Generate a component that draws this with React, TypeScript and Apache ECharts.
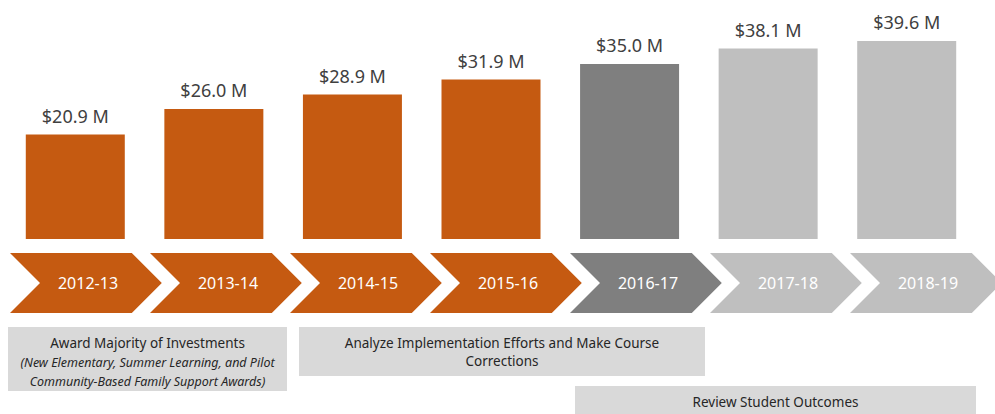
import React, { useEffect, useRef } from "react";
import * as echarts from "echarts";

const categories = ["2012-13", "2013-14", "2014-15", "2015-16", "2016-17", "2017-18", "2018-19"];
const funding = [20.9, 26.0, 28.9, 31.9, 35.0, 38.1, 39.6];
const phase = ["past", "past", "past", "past", "current", "future", "future"];
const boxTitles = [
  "Award Majority of Investments",
  "Analyze Implementation Efforts and Make Course\nCorrections",
  "Review Student Outcomes",
];
const boxNotes = [
  "(New Elementary, Summer Learning, and Pilot\nCommunity-Based Family Support Awards)",
  "",
  "",
];

const phaseColor: Record<string, string> = {
  past: "#C55A11",
  current: "#7F7F7F",
  future: "#BFBFBF",
};

const FONT = "'Noto Sans', 'DejaVu Sans', sans-serif";

// layout of the annotation boxes (x, y, w, h, title y, note y)
const boxLayout = [
  { x: 8, y: 327, w: 279, h: 64, ty: 343, ny: 371.5 },
  { x: 299, y: 327, w: 406, h: 49, ty: 352, ny: 0 },
  { x: 575, y: 386, w: 401, h: 40, ty: 402, ny: 0 },
];

export default function App() {
  const ref = useRef<HTMLDivElement>(null);
  useEffect(() => {
    if (!ref.current) return;
    const chart = echarts.init(ref.current, undefined, { renderer: "svg" });

    const graphics: any[] = [];
    boxLayout.forEach((b, i) => {
      graphics.push({
        type: "rect",
        shape: { x: b.x, y: b.y, width: b.w, height: b.h },
        style: { fill: "#D9D9D9" },
        silent: true,
      });
      graphics.push({
        type: "text",
        x: b.x + b.w / 2,
        y: b.ty,
        style: {
          text: boxTitles[i],
          fill: "#262626",
          font: `13.5px ${FONT}`,
          align: "center",
          verticalAlign: "middle",
          lineHeight: 18,
        },
        silent: true,
      });
      if (boxNotes[i]) {
        graphics.push({
          type: "text",
          x: b.x + b.w / 2,
          y: b.ny,
          style: {
            text: boxNotes[i],
            fill: "#262626",
            font: `italic 12.5px ${FONT}`,
            align: "center",
            verticalAlign: "middle",
            lineHeight: 19,
          },
          silent: true,
        });
      }
    });

    chart.setOption({
      animation: false,
      grid: [
        { left: 6, right: 19, top: 14, bottom: 175 },
        { left: 10, right: 5, top: 253, height: 60 },
      ],
      xAxis: [
        { type: "category", data: categories, gridIndex: 0, show: false },
        { type: "category", data: categories, gridIndex: 1, show: false },
      ],
      yAxis: [
        { type: "value", min: 0, max: 45, gridIndex: 0, show: false },
        { type: "value", min: 0, max: 1, gridIndex: 1, show: false },
      ],
      series: [
        {
          type: "bar",
          xAxisIndex: 0,
          yAxisIndex: 0,
          barWidth: 99,
          data: funding.map((v, i) => ({
            value: v,
            itemStyle: { color: phaseColor[phase[i]] },
          })),
          label: {
            show: true,
            position: "top",
            distance: 10,
            color: "#404040",
            fontFamily: FONT,
            fontSize: 18,
            formatter: (p: any) => `$${Number(p.value).toFixed(1)} M`,
          },
        },
        {
          type: "custom",
          xAxisIndex: 1,
          yAxisIndex: 1,
          clip: false,
          data: categories.map((c, i) => [i, 1]),
          encode: { x: 0, y: 1 },
          renderItem: (params: any, api: any) => {
            const idx = api.value(0);
            const bottom = api.coord([idx, 0]);
            const top = api.coord([idx, 1]);
            const band = api.size([1, 0])[0];
            const L = bottom[0] - band / 2;
            const yT = top[1];
            const yB = bottom[1];
            const yM = (yT + yB) / 2;
            const d = (yB - yT) / 2;
            const w = band * 0.87;
            return {
              type: "group",
              children: [
                {
                  type: "polygon",
                  shape: {
                    points: [
                      [L, yT],
                      [L + w, yT],
                      [L + w + d, yM],
                      [L + w, yB],
                      [L, yB],
                      [L + d, yM],
                    ],
                  },
                  style: { fill: phaseColor[phase[idx]] },
                },
                {
                  type: "text",
                  x: L + 78,
                  y: yM,
                  style: {
                    text: categories[idx],
                    fill: "#FFFFFF",
                    font: `16px ${FONT}`,
                    align: "center",
                    verticalAlign: "middle",
                  },
                },
              ],
            };
          },
        },
      ],
      graphic: graphics,
    });
    return () => chart.dispose();
  }, []);
  return (
    <div
      ref={ref}
      style={{ position: "fixed", left: 0, top: 0, width: 995, height: 414, background: "#fff" }}
    />
  );
}
